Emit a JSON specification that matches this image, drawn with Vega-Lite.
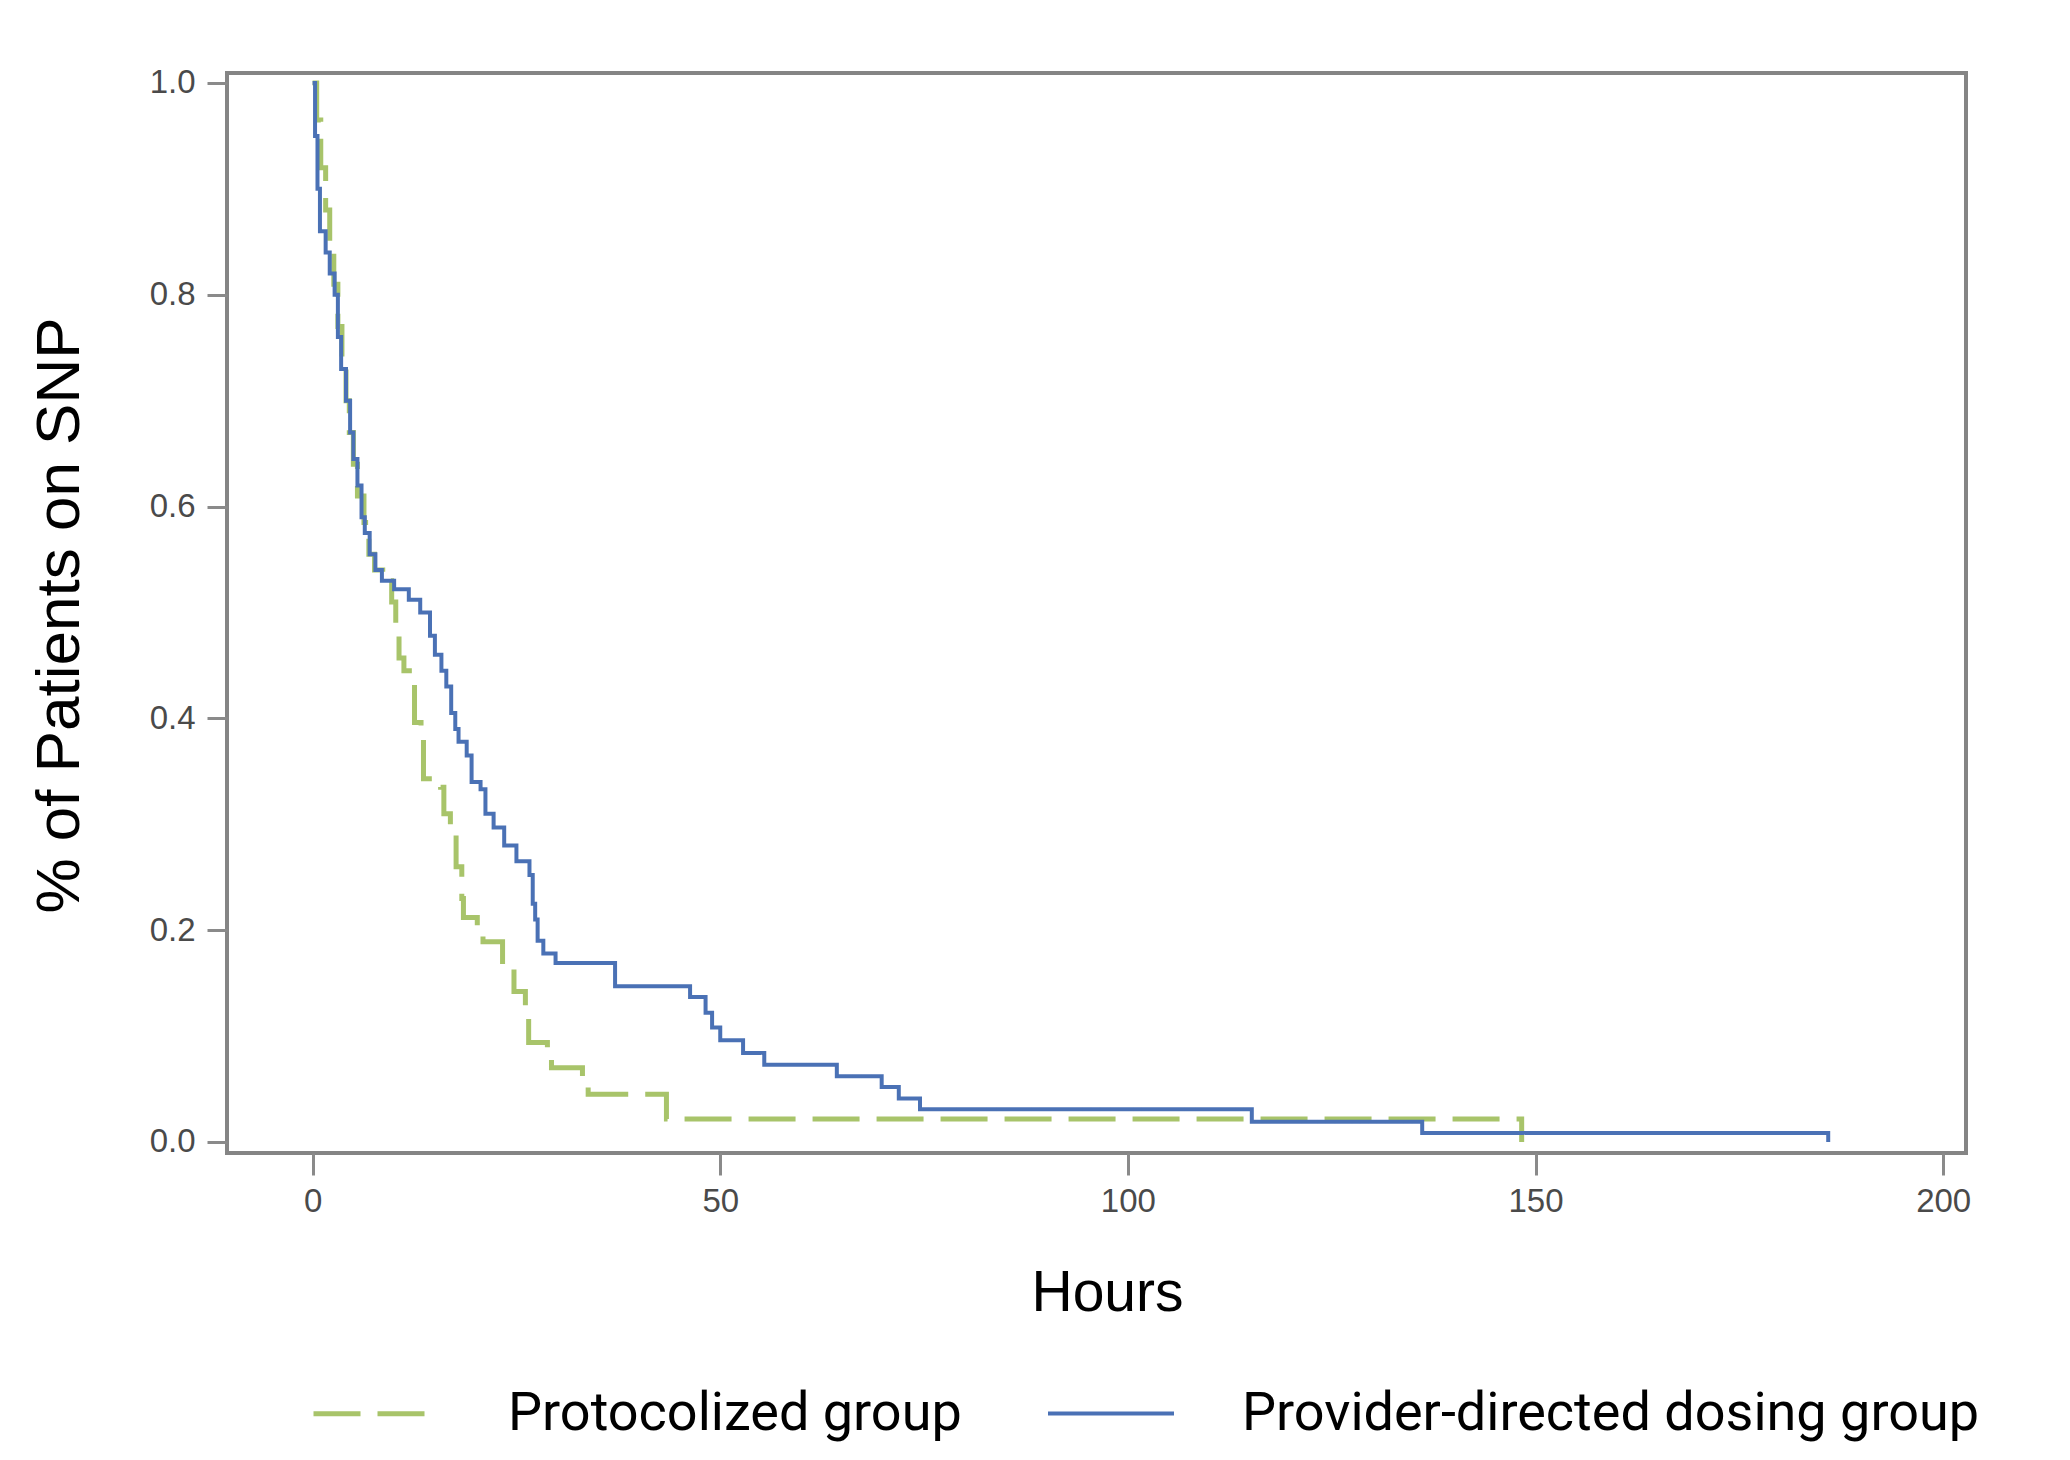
{
  "$schema": "https://vega.github.io/schema/vega-lite/v6.json",
  "width": 1739,
  "height": 1080,
  "autosize": {"type": "none"},
  "padding": {"left": 227, "top": 73, "right": 104, "bottom": 307},
  "background": "white",
  "config": {
    "view": {"stroke": "#858585", "strokeWidth": 4},
    "axis": {"grid": false, "domain": false}
  },
  "data": {
    "values": [
      {"group": "Protocolized group", "h": 0, "v": 1.0},
      {"group": "Protocolized group", "h": 0.5, "v": 0.965},
      {"group": "Protocolized group", "h": 1.0, "v": 0.92},
      {"group": "Protocolized group", "h": 1.6, "v": 0.88},
      {"group": "Protocolized group", "h": 2.1, "v": 0.85},
      {"group": "Protocolized group", "h": 2.6, "v": 0.81},
      {"group": "Protocolized group", "h": 3.1, "v": 0.77},
      {"group": "Protocolized group", "h": 3.6, "v": 0.74},
      {"group": "Protocolized group", "h": 4.1, "v": 0.70},
      {"group": "Protocolized group", "h": 4.5, "v": 0.67},
      {"group": "Protocolized group", "h": 5.0, "v": 0.64},
      {"group": "Protocolized group", "h": 5.5, "v": 0.61},
      {"group": "Protocolized group", "h": 6.3, "v": 0.585},
      {"group": "Protocolized group", "h": 6.9, "v": 0.555},
      {"group": "Protocolized group", "h": 7.6, "v": 0.54},
      {"group": "Protocolized group", "h": 8.6, "v": 0.53},
      {"group": "Protocolized group", "h": 9.7, "v": 0.51},
      {"group": "Protocolized group", "h": 10.2, "v": 0.48},
      {"group": "Protocolized group", "h": 10.6, "v": 0.457},
      {"group": "Protocolized group", "h": 11.2, "v": 0.445},
      {"group": "Protocolized group", "h": 12.2, "v": 0.436},
      {"group": "Protocolized group", "h": 12.5, "v": 0.396},
      {"group": "Protocolized group", "h": 13.3, "v": 0.387},
      {"group": "Protocolized group", "h": 13.6, "v": 0.343},
      {"group": "Protocolized group", "h": 15.7, "v": 0.335},
      {"group": "Protocolized group", "h": 16.1, "v": 0.31},
      {"group": "Protocolized group", "h": 16.9, "v": 0.29},
      {"group": "Protocolized group", "h": 17.6, "v": 0.26},
      {"group": "Protocolized group", "h": 18.3, "v": 0.23},
      {"group": "Protocolized group", "h": 18.5, "v": 0.212},
      {"group": "Protocolized group", "h": 20.2, "v": 0.20},
      {"group": "Protocolized group", "h": 20.9, "v": 0.189},
      {"group": "Protocolized group", "h": 23.3, "v": 0.165},
      {"group": "Protocolized group", "h": 24.7, "v": 0.142},
      {"group": "Protocolized group", "h": 26.1, "v": 0.125},
      {"group": "Protocolized group", "h": 26.5, "v": 0.094},
      {"group": "Protocolized group", "h": 28.8, "v": 0.084},
      {"group": "Protocolized group", "h": 29.3, "v": 0.070},
      {"group": "Protocolized group", "h": 33.1, "v": 0.058},
      {"group": "Protocolized group", "h": 33.8, "v": 0.045},
      {"group": "Protocolized group", "h": 43.4, "v": 0.0217},
      {"group": "Protocolized group", "h": 148.3, "v": 0.0},
      {"group": "Provider-directed dosing group", "h": 0, "v": 1.0},
      {"group": "Provider-directed dosing group", "h": 0.3, "v": 0.95},
      {"group": "Provider-directed dosing group", "h": 0.6, "v": 0.90},
      {"group": "Provider-directed dosing group", "h": 0.9, "v": 0.86},
      {"group": "Provider-directed dosing group", "h": 1.6, "v": 0.84},
      {"group": "Provider-directed dosing group", "h": 2.1, "v": 0.82},
      {"group": "Provider-directed dosing group", "h": 2.7, "v": 0.80},
      {"group": "Provider-directed dosing group", "h": 3.1, "v": 0.76},
      {"group": "Provider-directed dosing group", "h": 3.5, "v": 0.73},
      {"group": "Provider-directed dosing group", "h": 4.1, "v": 0.70},
      {"group": "Provider-directed dosing group", "h": 4.6, "v": 0.67},
      {"group": "Provider-directed dosing group", "h": 5.0, "v": 0.645},
      {"group": "Provider-directed dosing group", "h": 5.5, "v": 0.62},
      {"group": "Provider-directed dosing group", "h": 6.0, "v": 0.59},
      {"group": "Provider-directed dosing group", "h": 6.4, "v": 0.575},
      {"group": "Provider-directed dosing group", "h": 7.0, "v": 0.555},
      {"group": "Provider-directed dosing group", "h": 7.7, "v": 0.54},
      {"group": "Provider-directed dosing group", "h": 8.5, "v": 0.53},
      {"group": "Provider-directed dosing group", "h": 10.0, "v": 0.522},
      {"group": "Provider-directed dosing group", "h": 11.8, "v": 0.512},
      {"group": "Provider-directed dosing group", "h": 13.2, "v": 0.50},
      {"group": "Provider-directed dosing group", "h": 14.4, "v": 0.478},
      {"group": "Provider-directed dosing group", "h": 15.0, "v": 0.46},
      {"group": "Provider-directed dosing group", "h": 15.8, "v": 0.445},
      {"group": "Provider-directed dosing group", "h": 16.4, "v": 0.43},
      {"group": "Provider-directed dosing group", "h": 17.0, "v": 0.405},
      {"group": "Provider-directed dosing group", "h": 17.5, "v": 0.39},
      {"group": "Provider-directed dosing group", "h": 17.9, "v": 0.378},
      {"group": "Provider-directed dosing group", "h": 18.9, "v": 0.365},
      {"group": "Provider-directed dosing group", "h": 19.5, "v": 0.34},
      {"group": "Provider-directed dosing group", "h": 20.6, "v": 0.333},
      {"group": "Provider-directed dosing group", "h": 21.2, "v": 0.31},
      {"group": "Provider-directed dosing group", "h": 22.2, "v": 0.297},
      {"group": "Provider-directed dosing group", "h": 23.5, "v": 0.28},
      {"group": "Provider-directed dosing group", "h": 25.0, "v": 0.265},
      {"group": "Provider-directed dosing group", "h": 26.6, "v": 0.252},
      {"group": "Provider-directed dosing group", "h": 27.0, "v": 0.225},
      {"group": "Provider-directed dosing group", "h": 27.3, "v": 0.21},
      {"group": "Provider-directed dosing group", "h": 27.6, "v": 0.19},
      {"group": "Provider-directed dosing group", "h": 28.3, "v": 0.178},
      {"group": "Provider-directed dosing group", "h": 29.8, "v": 0.169},
      {"group": "Provider-directed dosing group", "h": 37.1, "v": 0.147},
      {"group": "Provider-directed dosing group", "h": 46.3, "v": 0.137},
      {"group": "Provider-directed dosing group", "h": 48.2, "v": 0.122},
      {"group": "Provider-directed dosing group", "h": 49.0, "v": 0.108},
      {"group": "Provider-directed dosing group", "h": 50.0, "v": 0.096},
      {"group": "Provider-directed dosing group", "h": 52.8, "v": 0.084},
      {"group": "Provider-directed dosing group", "h": 55.4, "v": 0.073},
      {"group": "Provider-directed dosing group", "h": 64.3, "v": 0.062},
      {"group": "Provider-directed dosing group", "h": 69.8, "v": 0.052},
      {"group": "Provider-directed dosing group", "h": 71.9, "v": 0.041},
      {"group": "Provider-directed dosing group", "h": 74.5, "v": 0.031},
      {"group": "Provider-directed dosing group", "h": 115.2, "v": 0.019},
      {"group": "Provider-directed dosing group", "h": 136.1, "v": 0.0085},
      {"group": "Provider-directed dosing group", "h": 185.9, "v": 0.0}
    ]
  },
  "mark": {"type": "line", "interpolate": "step-after"},
  "encoding": {
    "x": {
      "field": "h",
      "type": "quantitative",
      "scale": {"domain": [-10.5, 202.8], "nice": false, "zero": false},
      "axis": {
        "values": [0, 50, 100, 150, 200],
        "title": "Hours",
        "titleFont": "Liberation Sans",
        "titleFontSize": 57,
        "titleFontWeight": "normal",
        "titleColor": "#000000",
        "titleX": 880,
        "titleY": 157,
        "titleBaseline": "alphabetic",
        "titleAlign": "center",
        "labelFont": "Liberation Sans",
        "labelFontSize": 33,
        "labelColor": "#4a4a4a",
        "labelPadding": 10,
        "tickSize": 22,
        "tickWidth": 3,
        "tickColor": "#8a8a8a"
      }
    },
    "y": {
      "field": "v",
      "type": "quantitative",
      "scale": {"domain": [-0.0104, 1.0094], "nice": false, "zero": false},
      "axis": {
        "values": [0, 0.2, 0.4, 0.6, 0.8, 1.0],
        "format": ".1f",
        "title": "% of Patients on SNP",
        "titleFont": "Liberation Sans",
        "titleFontSize": 62,
        "titleFontWeight": "normal",
        "titleColor": "#000000",
        "titleAngle": 270,
        "titleX": -168,
        "titleY": 542,
        "titleBaseline": "middle",
        "titleAlign": "center",
        "labelFont": "Liberation Sans",
        "labelFontSize": 33,
        "labelColor": "#4a4a4a",
        "labelPadding": 12,
        "tickSize": 20,
        "tickWidth": 3,
        "tickColor": "#8a8a8a"
      }
    },
    "color": {
      "field": "group",
      "type": "nominal",
      "scale": {
        "domain": ["Protocolized group", "Provider-directed dosing group"],
        "range": ["#a8c46a", "#4a71b5"]
      },
      "legend": {
        "title": null,
        "orient": "none",
        "direction": "horizontal",
        "legendX": 84,
        "legendY": 1275,
        "padding": 0,
        "symbolType": "stroke",
        "symbolSize": 15876,
        "symbolStrokeWidth": 5,
        "labelFont": "Roboto",
        "labelFontSize": 54,
        "labelColor": "#000000",
        "labelOffset": 66,
        "labelLimit": 1200,
        "columnPadding": 78
      }
    },
    "strokeDash": {
      "field": "group",
      "type": "nominal",
      "scale": {
        "domain": ["Protocolized group", "Provider-directed dosing group"],
        "range": [[47, 17], [1, 0]]
      },
      "legend": {
        "title": null,
        "orient": "none",
        "direction": "horizontal",
        "legendX": 84,
        "legendY": 1275,
        "padding": 0,
        "symbolType": "stroke",
        "symbolSize": 15876,
        "symbolStrokeWidth": 5,
        "labelFont": "Roboto",
        "labelFontSize": 54,
        "labelColor": "#000000",
        "labelOffset": 66,
        "labelLimit": 1200,
        "columnPadding": 78
      }
    },
    "strokeWidth": {
      "field": "group",
      "type": "nominal",
      "scale": {
        "domain": ["Protocolized group", "Provider-directed dosing group"],
        "range": [5, 4]
      },
      "legend": null
    }
  }
}
